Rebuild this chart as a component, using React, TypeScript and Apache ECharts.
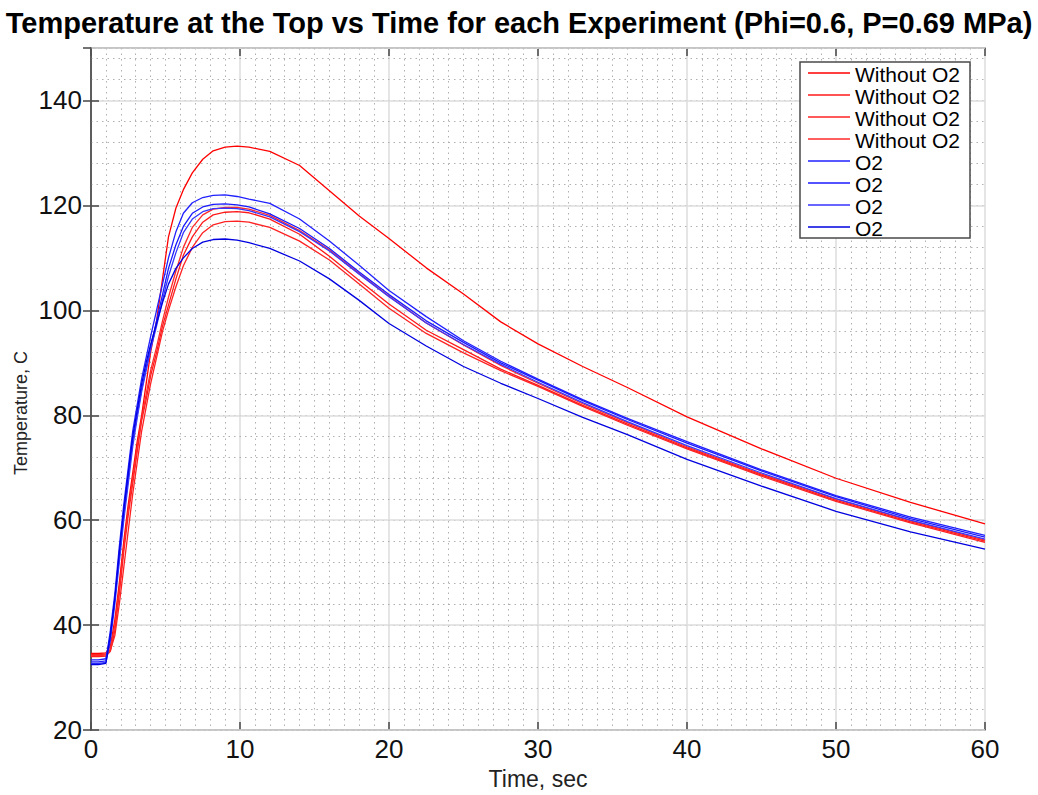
import React, { useEffect, useRef } from "react";
import * as echarts from "echarts";

const TITLE = "Temperature at the Top vs Time for each Experiment (Phi=0.6, P=0.69 MPa)";
const X_NAME = "Time, sec";
const Y_NAME = "Temperature, C";

const times = [
  0, 0.5, 1.0, 1.3, 1.6, 1.9, 2.2, 2.5, 2.8, 3.1, 3.4, 3.7, 4.0, 4.4, 4.8, 5.2, 5.7, 6.2, 6.8, 7.5,
  8.2, 9.0, 9.8, 10.6, 12, 14, 16, 18, 20, 22.5, 25, 27.5, 30, 33, 36, 40, 45, 50, 55, 60,
];

const red1 = [
  34.6, 34.6, 34.7, 36, 41, 48, 56, 63, 69, 75, 80, 86, 92, 98, 106, 114, 119.5, 123, 126.2, 128.8,
  130.4, 131.1, 131.3, 131.1, 130.3, 127.6, 122.8, 118.0, 113.7, 108.1, 103.1, 97.8, 93.6, 89.3, 85.3, 79.7, 73.6, 68.0, 63.4, 59.3,
];
const red2 = [
  34.0, 34.0, 34.1, 35, 39, 46, 54, 61, 67, 73, 79, 83, 87.5, 92, 97, 101, 106, 110.5, 114, 116.8,
  118.2, 118.7, 118.8, 118.6, 117.4, 114.5, 110.3, 105.7, 101.2, 96.2, 92.5, 88.8, 85.7, 81.9, 78.3, 73.8, 68.6, 63.8, 59.7, 56.0,
];
const red3 = [
  34.4, 34.4, 34.5, 35.2, 38, 44, 51, 58, 65, 71, 77, 81.5, 86, 91, 96, 100, 104.5, 108.5, 112, 114.8,
  116.3, 116.9, 117.0, 116.8, 115.8, 113.2, 109.6, 105.0, 100.4, 95.6, 91.9, 88.5, 85.5, 81.7, 78.1, 73.6, 68.4, 63.6, 59.5, 55.8,
];
const red4 = [
  34.2, 34.2, 34.3, 35.5, 40, 47, 55, 62, 68, 74, 79.5, 84, 88.5, 93, 98, 102.5, 107.5, 112, 115.8, 118.2,
  119.3, 119.6, 119.6, 119.3, 118.1, 115.2, 111.5, 107.0, 102.7, 97.6, 93.4, 89.5, 86.1, 82.2, 78.6, 74.0, 68.8, 64.0, 59.9, 56.2,
];
const blue1 = [
  33.0, 33.0, 33.2, 39, 46, 55, 63, 70, 77, 82, 87, 91, 95, 100, 105, 110, 115, 118.5, 120.5, 121.5,
  121.9, 122.0, 121.7, 121.2, 120.4, 117.4, 113.2, 108.6, 103.8, 98.8, 94.2, 90.3, 86.9, 83.0, 79.4, 75.0, 69.6, 64.7, 60.6, 57.1,
];
const blue2 = [
  33.4, 33.4, 33.6, 38, 45, 53, 61, 68, 75, 80, 85, 89, 93, 98, 103, 108, 112.5, 116, 118.5, 119.7,
  120.2, 120.3, 120.1, 119.7, 118.4, 115.6, 111.8, 107.3, 103.0, 98.0, 93.9, 90.0, 86.7, 82.8, 79.2, 74.7, 69.4, 64.5, 60.3, 56.8,
];
const blue3 = [
  32.7, 32.7, 32.9, 37, 44, 52, 60, 67, 74, 79.5, 84.5, 88.5, 92.5, 97, 102, 106.5, 111, 114.8, 117.4, 118.8,
  119.4, 119.5, 119.4, 119.0, 117.8, 115.0, 111.3, 106.9, 102.6, 97.6, 93.5, 89.7, 86.3, 82.4, 78.8, 74.2, 69.0, 64.1, 60.0, 56.4,
];
const blue4 = [
  32.5, 32.5, 32.7, 38, 45, 54, 62, 69, 76, 81, 86, 90, 93.5, 97.5, 101.5, 105, 108, 110, 111.8, 113,
  113.5, 113.6, 113.4, 112.9, 111.8, 109.4, 106.0, 101.9, 97.5, 93.2, 89.3, 86.1, 83.2, 79.6, 76.3, 71.6, 66.5, 61.7, 57.8, 54.5,
];

const seriesNames = [
  "Without O2", "Without O2", "Without O2", "Without O2",
  "O2", "O2", "O2", "O2",
];
const seriesData = [red1, red2, red3, red4, blue1, blue2, blue3, blue4];
const seriesColors = ["#ff0000", "#ff1a1a", "#ff2222", "#ff2a2a", "#2020ff", "#1a1aff", "#3535ff", "#0000e0"];

const FONT = "Liberation Sans, Arial, Helvetica, sans-serif";

export default function App() {
  const ref = useRef<HTMLDivElement>(null);
  useEffect(() => {
    if (!ref.current) return;
    const chart = echarts.init(ref.current, null, { renderer: "svg" });
    const gridPos = { left: 91, right: 53, top: 48, bottom: 57 };
    const axisLine = { show: true, lineStyle: { color: "#555", width: 1.5 } };
    const tick = { show: true, inside: true, length: 8, lineStyle: { color: "#444", width: 1.5 } };

    const legendX = 800;
    const legendY = 62;
    const rowH = 22;
    const els: any[] = [
      {
        type: "rect",
        shape: { x: legendX, y: legendY, width: 170, height: 176 },
        style: { fill: "#fff", stroke: "#4a4a4a", lineWidth: 1.5 },
        z: 100,
      },
      {
        type: "text",
        x: 21,
        y: 413,
        rotation: Math.PI / 2,
        style: { text: Y_NAME, fill: "#222", font: `18px ${FONT}`, align: "center", verticalAlign: "middle" },
        z: 100,
      },
    ];
    seriesNames.forEach((n, i) => {
      const cy = legendY + 11 + i * rowH;
      els.push({
        type: "line",
        shape: { x1: legendX + 8, y1: cy, x2: legendX + 50, y2: cy },
        style: { stroke: seriesColors[i], lineWidth: 1.3 },
        z: 101,
      });
      els.push({
        type: "text",
        x: legendX + 55,
        y: cy + 1,
        style: { text: n, fill: "#000", font: `21px ${FONT}`, verticalAlign: "middle", align: "left" },
        z: 101,
      });
    });

    chart.setOption({
      animation: false,
      backgroundColor: "#fff",
      title: {
        text: TITLE,
        left: "center",
        top: 3,
        textStyle: { fontFamily: FONT, fontSize: 29, fontWeight: "bold", color: "#000" },
      },
      grid: { ...gridPos, containLabel: false },
      xAxis: [
        {
          type: "value",
          min: 0,
          max: 60,
          interval: 10,
          position: "bottom",
          name: X_NAME,
          nameLocation: "middle",
          nameGap: 32,
          nameTextStyle: { fontFamily: FONT, fontSize: 23, color: "#222" },
          axisLine,
          axisTick: tick,
          axisLabel: { fontFamily: FONT, fontSize: 26, color: "#111", margin: 6 },
          splitLine: { show: true, lineStyle: { color: "#dcdcdc", width: 1.5 } },
          minorTick: { show: false, splitNumber: 10 },
          minorSplitLine: { show: true, lineStyle: { color: "#b0b0b0", width: 1, type: [1.5, 4] } },
        },
        {
          type: "value",
          min: 0,
          max: 60,
          interval: 10,
          position: "top",
          axisLine,
          axisTick: tick,
          axisLabel: { show: false },
          splitLine: { show: false },
        },
      ],
      yAxis: [
        {
          type: "value",
          min: 20,
          max: 150,
          interval: 20,
          position: "left",
          axisLine,
          axisTick: tick,
          axisLabel: { fontFamily: FONT, fontSize: 26, color: "#111", margin: 9, showMaxLabel: false },
          splitLine: { show: true, lineStyle: { color: "#dcdcdc", width: 1.5 } },
          z: 3,
        },
        {
          type: "value",
          min: 20,
          max: 150,
          interval: 20,
          position: "right",
          axisLine,
          axisTick: tick,
          axisLabel: { show: false },
          splitLine: { show: false },
        },
        {
          type: "value",
          min: 20,
          max: 150,
          interval: 4,
          position: "left",
          axisLine: { show: false },
          axisTick: { show: false },
          axisLabel: { show: false },
          splitLine: { show: true, lineStyle: { color: "#b0b0b0", width: 1, type: [1.5, 4] } },
          z: 1,
        },
      ],
      graphic: els,
      series: seriesData.map((vals, i) => ({
        name: seriesNames[i],
        type: "line",
        xAxisIndex: 0,
        yAxisIndex: 0,
        showSymbol: false,
        symbol: "none",
        data: times.map((t, j) => [t, vals[j]]),
        lineStyle: { color: seriesColors[i], width: 1.3 },
        itemStyle: { color: seriesColors[i] },
        z: 10,
      })),
    });
    return () => chart.dispose();
  }, []);
  return (
    <div
      ref={ref}
      style={{ position: "absolute", left: 0, top: 0, width: 1038, height: 795 }}
    />
  );
}
